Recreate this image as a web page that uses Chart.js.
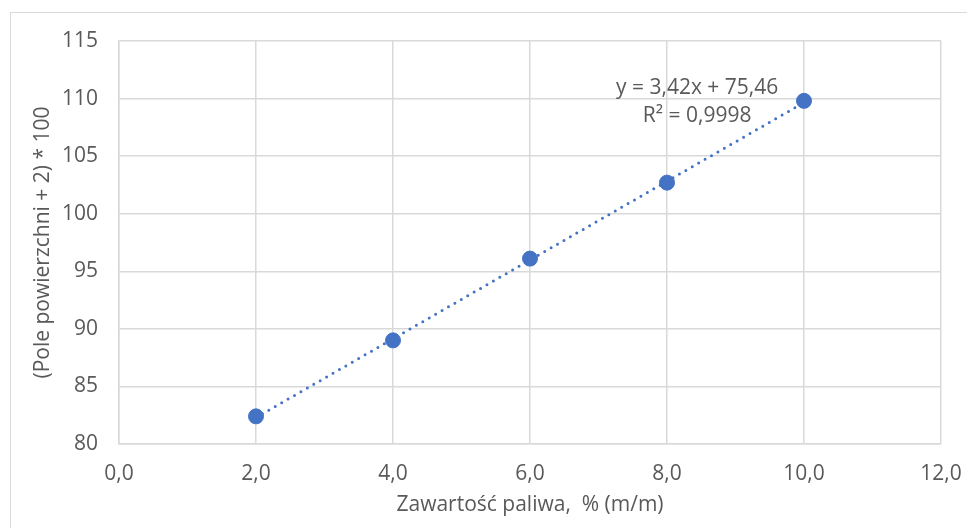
<!DOCTYPE html>
<html><head><meta charset="utf-8">
<script src="https://cdn.jsdelivr.net/npm/chart.js@4"></script>
<style>
html,body{margin:0;padding:0;background:#fff;}
#wrap{position:relative;width:967px;height:528px;overflow:hidden;}
#frame{position:absolute;left:10px;top:12px;width:960px;height:530px;border:1px solid #d9d9d9;box-sizing:border-box;}
canvas{position:absolute;left:0;top:0;}
</style></head>
<body><div id="wrap"><div id="frame"></div><canvas id="c" width="967" height="528"></canvas></div>
<script>
const xValues = [2, 4, 6, 8, 10];
const yValues = [82.4, 89.0, 96.1, 102.7, 109.8];
const trendX = [2, 10];
const trendY = [82.30, 109.66];
const equationLines = ["y = 3,42x + 75,46", "R² = 0,9998"];
const xTitle = "Zawartość paliwa,  % (m/m)";
const yTitle = "(Pole powierzchni + 2) * 100";

const FONT = "'Open Sans', Lato, sans-serif";
const FS = 21;
const TXT = '#595959';
const GRID = '#d9d9d9';
const BLUE = '#4472C4';

const eqPlugin = {
  id: 'eq',
  afterDatasetsDraw(chart) {
    const {ctx, scales:{x, y}} = chart;
    ctx.save();
    ctx.font = FS + "px " + FONT;
    ctx.fillStyle = TXT;
    ctx.textAlign = 'center';
    ctx.textBaseline = 'middle';
    const cx = x.getPixelForValue(8.44);
    ctx.fillText(equationLines[0], cx, y.getPixelForValue(110.95));
    ctx.fillText(equationLines[1], cx, y.getPixelForValue(108.5));
    ctx.restore();
  }
};

new Chart(document.getElementById('c'), {
  type: 'scatter',
  data: {
    datasets: [
      {
        data: xValues.map((v,i)=>({x:v, y:yValues[i]})),
        backgroundColor: BLUE, borderColor: BLUE,
        pointRadius: 7.5, pointHoverRadius: 7.5, order: 1
      },
      {
        type: 'line',
        data: trendX.map((v,i)=>({x:v, y:trendY[i]})),
        borderColor: BLUE, borderWidth: 3, borderDash: [0, 7.4], borderCapStyle: 'round',
        pointRadius: 0, fill: false, order: 2
      }
    ]
  },
  options: {
    responsive: false, animation: false,
    layout: { padding: { left: 30, right: 26, top: 41, bottom: 10 } },
    plugins: { legend: { display: false }, tooltip: { enabled: false } },
    scales: {
      x: {
        type: 'linear', min: 0, max: 12,
        ticks: { stepSize: 2, color: TXT, font: { family: FONT, size: FS }, padding: 17,
          callback: v => v.toFixed(1).replace('.', ',') },
        grid: { color: GRID, lineWidth: 1.5, drawTicks: false },
        border: { color: GRID, width: 1.5 },
        title: { display: true, text: xTitle, color: TXT, font: { family: FONT, size: FS }, padding: { top: 0, bottom: 0 } },
        afterFit(s) { s.height = 74; s.paddingLeft = 0; s.paddingRight = 0; }
      },
      y: {
        min: 80, max: 115,
        ticks: { stepSize: 5, color: TXT, font: { family: FONT, size: FS }, padding: 21 },
        grid: { color: GRID, lineWidth: 1.5, drawTicks: false },
        border: { color: GRID, width: 1.5 },
        title: { display: true, text: yTitle, color: TXT, font: { family: FONT, size: FS }, padding: { top: 0, bottom: 0 } },
        afterFit(s) { s.width = 89; s.paddingTop = 0; s.paddingBottom = 0; }
      }
    }
  },
  plugins: [eqPlugin]
});
</script></body></html>
